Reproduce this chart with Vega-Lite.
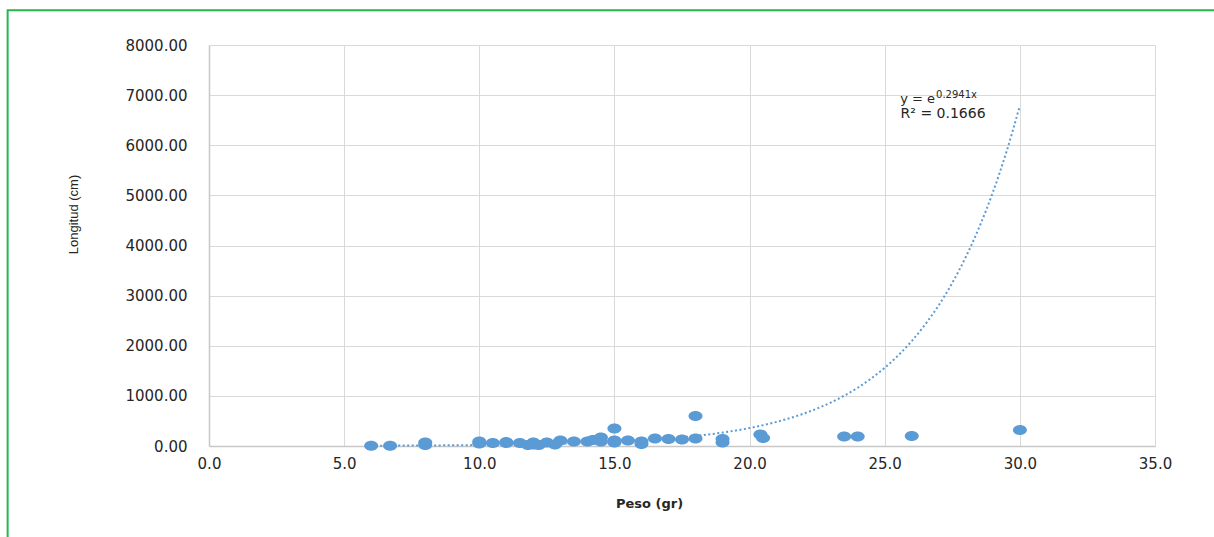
{
  "$schema": "https://vega.github.io/schema/vega-lite/v6.json",
  "width": 946,
  "height": 401,
  "autosize": {"type": "none"},
  "padding": {"left": 209, "top": 45, "right": 59, "bottom": 91},
  "background": "white",
  "config": {"view": {"stroke": null}},
  "datasets": {
    "points": [
      {"peso": 6.0, "longitud": 5},
      {"peso": 6.7, "longitud": 5},
      {"peso": 8.0, "longitud": 70},
      {"peso": 8.0, "longitud": 20},
      {"peso": 10.0, "longitud": 90},
      {"peso": 10.0, "longitud": 50},
      {"peso": 10.5, "longitud": 60},
      {"peso": 11.0, "longitud": 80},
      {"peso": 11.0, "longitud": 60},
      {"peso": 11.5, "longitud": 60},
      {"peso": 11.8, "longitud": 20},
      {"peso": 12.0, "longitud": 30},
      {"peso": 12.0, "longitud": 70},
      {"peso": 12.2, "longitud": 20},
      {"peso": 12.5, "longitud": 70},
      {"peso": 12.8, "longitud": 30},
      {"peso": 13.0, "longitud": 110},
      {"peso": 13.5, "longitud": 90},
      {"peso": 14.0, "longitud": 90},
      {"peso": 14.2, "longitud": 120},
      {"peso": 14.5, "longitud": 170},
      {"peso": 14.5, "longitud": 90},
      {"peso": 15.0, "longitud": 350},
      {"peso": 15.0, "longitud": 70},
      {"peso": 15.0, "longitud": 110},
      {"peso": 15.5, "longitud": 110},
      {"peso": 16.0, "longitud": 90},
      {"peso": 16.0, "longitud": 40},
      {"peso": 16.5, "longitud": 150},
      {"peso": 17.0, "longitud": 140},
      {"peso": 17.5, "longitud": 130},
      {"peso": 18.0, "longitud": 150},
      {"peso": 18.0, "longitud": 600},
      {"peso": 19.0, "longitud": 140},
      {"peso": 19.0, "longitud": 70},
      {"peso": 20.4, "longitud": 230},
      {"peso": 20.5, "longitud": 160},
      {"peso": 23.5, "longitud": 190},
      {"peso": 24.0, "longitud": 190},
      {"peso": 26.0, "longitud": 200},
      {"peso": 30.0, "longitud": 320}
    ],
    "trend": [
      {"peso": 6, "longitud": 5.84},
      {"peso": 7, "longitud": 7.84},
      {"peso": 8, "longitud": 10.5},
      {"peso": 9, "longitud": 14.1},
      {"peso": 10, "longitud": 18.9},
      {"peso": 11, "longitud": 25.4},
      {"peso": 12, "longitud": 34.1},
      {"peso": 13, "longitud": 45.8},
      {"peso": 14, "longitud": 61.4},
      {"peso": 15, "longitud": 82.4},
      {"peso": 16, "longitud": 110.6},
      {"peso": 17, "longitud": 148.4},
      {"peso": 18, "longitud": 199.1},
      {"peso": 19, "longitud": 267.2},
      {"peso": 20, "longitud": 358.5},
      {"peso": 21, "longitud": 481.1},
      {"peso": 22, "longitud": 645.6},
      {"peso": 23, "longitud": 866.3},
      {"peso": 24, "longitud": 1162.5},
      {"peso": 25, "longitud": 1560},
      {"peso": 25.5, "longitud": 1808},
      {"peso": 26, "longitud": 2094},
      {"peso": 26.5, "longitud": 2426},
      {"peso": 27, "longitud": 2810},
      {"peso": 27.5, "longitud": 3255},
      {"peso": 28, "longitud": 3771},
      {"peso": 28.5, "longitud": 4368},
      {"peso": 29, "longitud": 5060},
      {"peso": 29.5, "longitud": 5862},
      {"peso": 30, "longitud": 6790}
    ],
    "notes": [
      {"label": "y = e"}
    ]
  },
  "layer": [
    {
      "data": {"name": "points"},
      "mark": {
        "type": "point",
        "shape": "M-1.4,0A1.4,1,0,1,1,1.4,0A1.4,1,0,1,1,-1.4,0Z",
        "size": 100,
        "filled": true,
        "color": "#5B9BD5",
        "opacity": 1
      },
      "encoding": {
        "x": {
          "field": "peso",
          "type": "quantitative",
          "scale": {"domain": [0, 35], "nice": false, "zero": false},
          "axis": {
            "values": [0, 5, 10, 15, 20, 25, 30, 35],
            "format": ".1f",
            "title": "Peso (gr)",
            "grid": true,
            "gridColor": "#d9d9d9",
            "gridWidth": 1,
            "domainColor": "#c8c8c8",
            "domainWidth": 1.5,
            "ticks": false,
            "labelPadding": 10,
            "labelFlush": false,
            "labelFont": "DejaVu Sans",
            "labelFontSize": 15,
            "labelColor": "#262626",
            "titleFont": "DejaVu Sans",
            "titleFontSize": 13,
            "titleFontWeight": "bold",
            "titleColor": "#262626",
            "titleX": 440,
            "titleY": 57,
            "titleBaseline": "middle"
          }
        },
        "y": {
          "field": "longitud",
          "type": "quantitative",
          "scale": {"domain": [0, 8000], "nice": false, "zero": false},
          "axis": {
            "values": [0, 1000, 2000, 3000, 4000, 5000, 6000, 7000, 8000],
            "format": ".2f",
            "title": "Longitud (cm)",
            "grid": true,
            "gridColor": "#d9d9d9",
            "gridWidth": 1,
            "domainColor": "#c8c8c8",
            "domainWidth": 1.5,
            "ticks": false,
            "labelPadding": 22,
            "labelFlush": false,
            "labelFont": "DejaVu Sans",
            "labelFontSize": 15,
            "labelColor": "#262626",
            "titleFont": "Liberation Sans",
            "titleFontSize": 13,
            "titleFontWeight": "normal",
            "titleColor": "#262626",
            "titleX": -136,
            "titleY": 169,
            "titleAngle": -90,
            "titleAlign": "center",
            "titleBaseline": "middle"
          }
        }
      }
    },
    {
      "data": {"name": "trend"},
      "mark": {"type": "line", "color": "#5B9BD5", "strokeWidth": 2, "strokeDash": [2, 2.5], "interpolate": "monotone", "clip": false},
      "encoding": {
        "x": {"field": "peso", "type": "quantitative"},
        "y": {"field": "longitud", "type": "quantitative"}
      }
    },
    {
      "data": {"name": "notes"},
      "mark": {"type": "rect", "fill": null, "fillOpacity": 0, "stroke": "#27b54c", "strokeWidth": 2, "clip": false},
      "encoding": {
        "x": {"datum": -7.45, "type": "quantitative"},
        "x2": {"datum": 38},
        "y": {"datum": 8692, "type": "quantitative"},
        "y2": {"datum": -2200}
      }
    },
    {
      "data": {"name": "notes"},
      "mark": {"type": "text", "font": "DejaVu Sans", "fontSize": 13, "color": "#262626", "align": "right", "baseline": "middle"},
      "encoding": {"text": {"field": "label"}, "x": {"datum": 26.86, "type": "quantitative"}, "y": {"datum": 6923, "type": "quantitative"}}
    },
    {
      "data": {"name": "notes"},
      "mark": {"type": "text", "text": "0.2941x", "font": "DejaVu Sans", "fontSize": 10, "color": "#262626", "align": "left", "baseline": "middle"},
      "encoding": {"x": {"datum": 26.9, "type": "quantitative"}, "y": {"datum": 7006, "type": "quantitative"}}
    },
    {
      "data": {"name": "notes"},
      "mark": {"type": "text", "text": "R² = 0.1666", "font": "DejaVu Sans", "fontSize": 14, "color": "#262626", "align": "center", "baseline": "middle"},
      "encoding": {"x": {"datum": 27.16, "type": "quantitative"}, "y": {"datum": 6615, "type": "quantitative"}}
    }
  ]
}
